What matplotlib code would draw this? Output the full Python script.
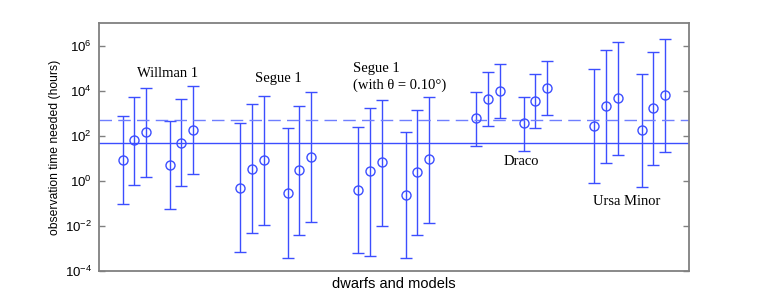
import matplotlib
matplotlib.use("Agg")
import matplotlib.pyplot as plt
import numpy as np

# x positions (index slots) for the 30 models, grouped by dwarf
x_pos = [0, 1, 2, 4, 5, 6,
         10, 11, 12, 14, 15, 16,
         20, 21, 22, 24, 25, 26,
         30, 31, 32, 34, 35, 36,
         40, 41, 42, 44, 45, 46]

# central estimates (hours)
center = [8.5, 65, 141, 5.2, 49, 186,
          0.49, 3.5, 8.1, 0.30, 2.95, 11,
          0.39, 2.75, 6.6, 0.24, 2.35, 9.1,
          589, 4070, 10000, 355, 3470, 13200,
          282, 2000, 4570, 174, 1620, 6170]

# upper ends of error bars (hours)
upper = [724, 5370, 12600, 468, 4365, 16600,
         355, 2630, 5900, 214, 2140, 8300,
         234, 1740, 3980, 148, 1380, 5370,
         8900, 64600, 151000, 5370, 53700, 204000,
         91000, 646000, 1.51e6, 56200, 525000, 2.04e6]

# lower ends of error bars (hours)
lower = [0.091, 0.66, 1.55, 0.058, 0.56, 2.0,
         6.9e-4, 4.7e-3, 0.011, 3.9e-4, 3.9e-3, 0.0148,
         6.5e-4, 4.4e-4, 9.8e-3, 3.8e-4, 3.8e-3, 0.0138,
         36, 263, 589, 22, 224, 832,
         0.83, 6.0, 14.1, 0.52, 5.1, 18.6]

solid_level = 48
dashed_level = 500

group_labels = ["Willman 1", "Segue 1", "Segue 1", "(with θ = 0.10°)", "Draco", "Ursa Minor"]
label_x = [3.85, 13.2, 19.5, 19.5, 33.8, 42.7]
label_y = [6.0e4, 3.6e4, 1.0e5, 1.66e4, 7.1, 0.121]
label_ha = ["center", "center", "left", "left", "center", "center"]

ytick_vals = [1e-4, 1e-2, 1e0, 1e2, 1e4, 1e6]

plt.rcParams['font.family'] = ['Liberation Sans', 'DejaVu Sans']
plt.rcParams['mathtext.fontset'] = 'custom'
plt.rcParams['mathtext.rm'] = 'Liberation Sans'
plt.rcParams['mathtext.it'] = 'Liberation Sans:italic'

fig = plt.figure(figsize=(7.61, 3.05), dpi=100)
ax = fig.add_axes([0.130, 0.1115, 0.775, 0.8131])

blue = '#3c4eff'
c = np.array(center)
yerr = np.vstack([c - np.array(lower), np.array(upper) - c])
ax.errorbar(x_pos, center, yerr=yerr, fmt='o', mfc='none', mec=blue, ms=6.5,
            mew=1.0, ecolor=blue, elinewidth=1.0, capsize=4.5, capthick=1.0)

ax.axhline(solid_level, color=blue, lw=1.0)
ax.axhline(dashed_level, color='#6f7fff', lw=1.0, ls=(0, (9, 4.5)))

ax.set_yscale('log')
ax.set_ylim(1e-4, 1e7)
ax.set_xlim(-2, 48)
ax.set_yticks(ytick_vals)
ax.yaxis.set_minor_locator(matplotlib.ticker.NullLocator())
ax.set_xticks([])
ax.tick_params(axis='y', direction='in', length=4.5, width=1.0, color='#808080',
               right=True, labelsize=9.5, pad=5)

for sp in ax.spines.values():
    sp.set_color('#808080')
    sp.set_linewidth(1.3)

ax.set_ylabel('observation time needed (hours)', fontsize=8.7, labelpad=3)
ax.set_xlabel('dwarfs and models', fontsize=10.5, labelpad=4)

for txt, lx, ly, ha in zip(group_labels, label_x, label_y, label_ha):
    ax.text(lx, ly, txt, ha=ha, va='center', fontsize=10.5,
            family=['Liberation Serif', 'DejaVu Serif'])

fig.savefig('out.png', dpi=100)
